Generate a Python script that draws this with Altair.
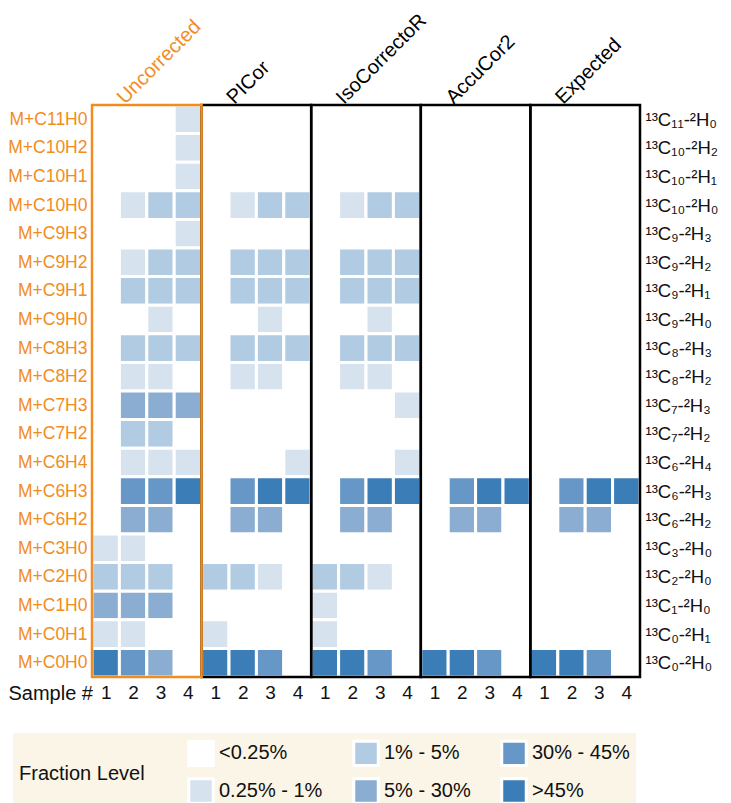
import json
import altair as alt
import pandas as pd

groups = ["Uncorrected", "PICor", "IsoCorrectoR", "AccuCor2", "Expected"]
samples = [1, 2, 3, 4]
rows = ["M+C11H0", "M+C10H2", "M+C10H1", "M+C10H0", "M+C9H3", "M+C9H2", "M+C9H1",
        "M+C9H0", "M+C8H3", "M+C8H2", "M+C7H3", "M+C7H2", "M+C6H4", "M+C6H3",
        "M+C6H2", "M+C3H0", "M+C2H0", "M+C1H0", "M+C0H1", "M+C0H0"]
right_labels = ["¹³C₁₁-²H₀", "¹³C₁₀-²H₂", "¹³C₁₀-²H₁", "¹³C₁₀-²H₀", "¹³C₉-²H₃",
                "¹³C₉-²H₂", "¹³C₉-²H₁", "¹³C₉-²H₀", "¹³C₈-²H₃", "¹³C₈-²H₂",
                "¹³C₇-²H₃", "¹³C₇-²H₂", "¹³C₆-²H₄", "¹³C₆-²H₃", "¹³C₆-²H₂",
                "¹³C₃-²H₀", "¹³C₂-²H₀", "¹³C₁-²H₀", "¹³C₀-²H₁", "¹³C₀-²H₀"]
level_names = ["<0.25%", "0.25% - 1%", "1% - 5%", "5% - 30%", "30% - 45%", ">45%"]
level_colors = ["#ffffff", "#d6e2ed", "#b1cbe2", "#8badd1", "#6697c7", "#3b7db6"]
legend_order = [0, 2, 4, 1, 3, 5]

# fraction level (0..5) per row (top to bottom), samples 1-4
uncorrected = [
    [0, 0, 0, 1], [0, 0, 0, 1], [0, 0, 0, 1], [0, 1, 2, 2], [0, 0, 0, 1],
    [0, 1, 2, 2], [0, 2, 2, 2], [0, 0, 1, 0], [0, 2, 2, 2], [0, 1, 1, 0],
    [0, 3, 3, 3], [0, 2, 2, 0], [0, 1, 1, 1], [0, 4, 4, 5], [0, 3, 3, 0],
    [1, 1, 0, 0], [2, 2, 2, 0], [3, 3, 3, 0], [1, 1, 0, 0], [5, 4, 3, 0]]
picor = [
    [0, 0, 0, 0], [0, 0, 0, 0], [0, 0, 0, 0], [0, 1, 2, 2], [0, 0, 0, 0],
    [0, 2, 2, 2], [0, 2, 2, 2], [0, 0, 1, 0], [0, 2, 2, 2], [0, 1, 1, 0],
    [0, 0, 0, 0], [0, 0, 0, 0], [0, 0, 0, 1], [0, 4, 5, 5], [0, 3, 3, 0],
    [0, 0, 0, 0], [2, 2, 1, 0], [0, 0, 0, 0], [1, 0, 0, 0], [5, 5, 4, 0]]
isocorrector = [
    [0, 0, 0, 0], [0, 0, 0, 0], [0, 0, 0, 0], [0, 1, 2, 2], [0, 0, 0, 0],
    [0, 2, 2, 2], [0, 2, 2, 2], [0, 0, 1, 0], [0, 2, 2, 2], [0, 1, 1, 0],
    [0, 0, 0, 1], [0, 0, 0, 0], [0, 0, 0, 1], [0, 4, 5, 5], [0, 3, 3, 0],
    [0, 0, 0, 0], [2, 2, 1, 0], [1, 0, 0, 0], [1, 0, 0, 0], [5, 5, 4, 0]]
accucor2 = [
    [0, 0, 0, 0], [0, 0, 0, 0], [0, 0, 0, 0], [0, 0, 0, 0], [0, 0, 0, 0],
    [0, 0, 0, 0], [0, 0, 0, 0], [0, 0, 0, 0], [0, 0, 0, 0], [0, 0, 0, 0],
    [0, 0, 0, 0], [0, 0, 0, 0], [0, 0, 0, 0], [0, 4, 5, 5], [0, 3, 3, 0],
    [0, 0, 0, 0], [0, 0, 0, 0], [0, 0, 0, 0], [0, 0, 0, 0], [5, 5, 4, 0]]
expected = [
    [0, 0, 0, 0], [0, 0, 0, 0], [0, 0, 0, 0], [0, 0, 0, 0], [0, 0, 0, 0],
    [0, 0, 0, 0], [0, 0, 0, 0], [0, 0, 0, 0], [0, 0, 0, 0], [0, 0, 0, 0],
    [0, 0, 0, 0], [0, 0, 0, 0], [0, 0, 0, 0], [0, 4, 5, 5], [0, 3, 3, 0],
    [0, 0, 0, 0], [0, 0, 0, 0], [0, 0, 0, 0], [0, 0, 0, 0], [5, 5, 4, 0]]
matrices = [uncorrected, picor, isocorrector, accucor2, expected]

ORANGE = "#f28c1e"
FONT = "Liberation Sans"
W, H = 548, 572
PAD = {"left": 84, "top": 97, "right": 83, "bottom": 126}
n_rows = len(rows)
n_cols = len(groups) * len(samples)

recs = []
for gi, g in enumerate(groups):
    for ri, r in enumerate(rows):
        for si, s in enumerate(samples):
            col = gi * len(samples) + si
            ypos = n_rows - 1 - ri
            recs.append({"group": g, "row": r, "sample": s,
                         "c0": col, "c1": col + 1, "r0": ypos, "r1": ypos + 1,
                         "level": level_names[matrices[gi][ri][si]]})
cells_df = pd.DataFrame(recs)

box_order = [g for g in groups if g != "Uncorrected"] + ["Uncorrected"]
boxes_df = pd.DataFrame([{"group": g, "b0": groups.index(g) * 4, "b1": groups.index(g) * 4 + 4,
                          "t0": 0, "t1": n_rows} for g in box_order])
titles_df = pd.DataFrame([{"group": g, "tx": gi * 4 + 1.2, "ty": n_rows} for gi, g in enumerate(groups)])

xscale = alt.Scale(domain=[0, n_cols], nice=False, zero=False)
yscale = alt.Scale(domain=[0, n_rows], nice=False, zero=False)
tick_vals = [i + 0.5 for i in range(n_rows)]
left_expr = json.dumps(rows[::-1], ensure_ascii=False) + "[floor(datum.value)]"
right_expr = json.dumps(right_labels[::-1], ensure_ascii=False) + "[floor(datum.value)]"
x_vals = [i + 0.5 for i in range(n_cols)]

color_domain = [level_names[i] for i in legend_order]
color_range = [level_colors[i] for i in legend_order]

cells = alt.Chart(cells_df).mark_rect(stroke="white", strokeWidth=3).encode(
    x=alt.X("c0:Q", scale=xscale, axis=alt.Axis(
        values=x_vals, labelExpr="(floor(datum.value) % 4) + 1", title="Sample #",
        ticks=False, domain=False, grid=False, labelFontSize=19, labelFont=FONT,
        labelColor="#111", labelPadding=6, titleFontSize=20, titleFont=FONT,
        titleFontWeight="normal", titleColor="#111", titleAngle=0, titleAlign="left",
        titleBaseline="middle", titleX=-84, titleY=16)),
    x2="c1:Q",
    y=alt.Y("r0:Q", scale=yscale, axis=alt.Axis(
        values=tick_vals, labelExpr=left_expr, title=None, ticks=False, domain=False,
        grid=False, labelFontSize=17.5, labelFont=FONT, labelColor=ORANGE, labelPadding=5)),
    y2="r1:Q",
    color=alt.Color("level:N", scale=alt.Scale(domain=color_domain, range=color_range),
                    legend=alt.Legend(
                        title="Fraction Level", orient="none", legendX=-79, legendY=H + 56,
                        columns=3, direction="horizontal", titleOrient="left",
                        titleAnchor="middle", titleBaseline="middle",
                        titleFontSize=20, titleFont=FONT, titleFontWeight="normal",
                        titleColor="#111", titlePadding=42,
                        labelFontSize=20, labelFont=FONT, labelColor="#111", labelOffset=4,
                        symbolType="square", symbolSize=600, symbolStrokeColor="white",
                        symbolStrokeWidth=3, symbolOpacity=1,
                        columnPadding=24, rowPadding=0, padding=6,
                        fillColor="#faf5e6")),
)

boxes = alt.Chart(boxes_df).mark_rect(fillOpacity=0, strokeWidth=2.5).encode(
    x=alt.X("b0:Q", scale=xscale, axis=None),
    x2="b1:Q",
    y=alt.Y("t0:Q", scale=yscale, axis=alt.Axis(
        orient="right", values=tick_vals, labelExpr=right_expr, title=None, ticks=False,
        domain=False, grid=False, labelFontSize=18.5, labelFont=FONT, labelColor="#111",
        labelPadding=5)),
    y2="t1:Q",
    stroke=alt.condition(alt.datum.group == "Uncorrected", alt.value(ORANGE), alt.value("black")),
)

titles = alt.Chart(titles_df).mark_text(
    angle=315, align="left", baseline="alphabetic", fontSize=20, font=FONT, dy=0
).encode(
    x=alt.X("tx:Q", scale=xscale, axis=None),
    y=alt.Y("ty:Q", scale=yscale, axis=None),
    text="group:N",
    color=alt.condition(alt.datum.group == "Uncorrected", alt.value(ORANGE), alt.value("black")),
)

chart = alt.layer(cells, boxes, titles).resolve_axis(x="independent", y="independent").properties(
    width=W, height=H, padding=PAD, autosize=alt.AutoSizeParams(type="none")
).configure_view(stroke=None).configure(background="white")

chart.save("out.html", embed_options={"renderer": "svg", "actions": False})
